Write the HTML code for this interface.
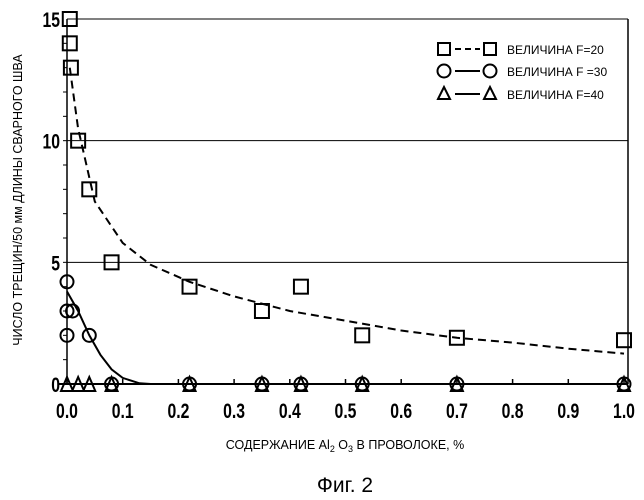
<!DOCTYPE html>
<html><head><meta charset="utf-8"><style>
body{margin:0;background:#fff;}
svg{display:block;font-family:"Liberation Sans","DejaVu Sans",sans-serif;}
</style></head><body>
<svg id="chart" width="644" height="500" viewBox="0 0 644 500">
<g id="grid"></g>
<g id="axes"></g>
<g id="series"></g>
<g font-size="12">
  <rect x="438" y="43" width="12" height="12" fill="none" stroke="#000" stroke-width="2"/>
  <line x1="455" y1="49" x2="480" y2="49" stroke="#000" stroke-width="2" stroke-dasharray="6,4"/>
  <rect x="484" y="43" width="12" height="12" fill="none" stroke="#000" stroke-width="2"/>
  <text x="507" y="54">ВЕЛИЧИНА F=20</text>
  <circle cx="444" cy="71" r="6.5" fill="none" stroke="#000" stroke-width="2"/>
  <line x1="455" y1="71" x2="480" y2="71" stroke="#000" stroke-width="2"/>
  <circle cx="490" cy="71" r="6.5" fill="none" stroke="#000" stroke-width="2"/>
  <text x="507" y="76">ВЕЛИЧИНА F =30</text>
  <path d="M438,99 L444,87 L450,99 Z" fill="none" stroke="#000" stroke-width="2"/>
  <line x1="455" y1="94" x2="480" y2="94" stroke="#000" stroke-width="2"/>
  <path d="M484,99 L490,87 L496,99 Z" fill="none" stroke="#000" stroke-width="2"/>
  <text x="507" y="99">ВЕЛИЧИНА F=40</text>
</g>
<text transform="translate(22,200) rotate(-90)" text-anchor="middle" font-size="12.5">ЧИСЛО ТРЕЩИН/50 мм ДЛИНЫ СВАРНОГО ШВА</text>
<text x="345" y="449" text-anchor="middle" font-size="12.5">СОДЕРЖАНИЕ Al<tspan font-size="9" dy="3">2</tspan><tspan dy="-3"> O</tspan><tspan font-size="9" dy="3">3</tspan><tspan dy="-3">  В ПРОВОЛОКЕ, %</tspan></text>
<text x="345" y="492" text-anchor="middle" font-size="21">Фиг. 2</text>
</svg>
<script>
const xTicks=[0,0.1,0.2,0.3,0.4,0.5,0.6,0.7,0.8,0.9,1.0];
const xTickLabels=["0.0","0.1","0.2","0.3","0.4","0.5","0.6","0.7","0.8","0.9","1.0"];
const yTicks=[0,5,10,15];
const yTickLabels=["0","5","10","15"];
const f20X=[0.005,0.005,0.007,0.02,0.04,0.08,0.22,0.35,0.42,0.53,0.7,1.0];
const f20Y=[15,14,13,10,8,5,4,3,4,2,1.9,1.8];
const f30X=[0,0,0,0.01,0.04,0.08,0.22,0.35,0.42,0.53,0.7,1.0];
const f30Y=[4.2,3,2,3,2,0,0,0,0,0,0,0];
const f40X=[0,0.02,0.04,0.08,0.22,0.35,0.42,0.53,0.7,1.0];
const f40Y=[0,0,0,0,0,0,0,0,0,0];
const fit20X=[0.005,0.02,0.05,0.1,0.15,0.22,0.3,0.4,0.5,0.6,0.7,0.8,0.9,1.0];
const fit20Y=[13,10.5,7.5,5.8,4.9,4.2,3.6,3.0,2.6,2.2,1.9,1.7,1.45,1.25];
const fit30X=[0,0.02,0.04,0.06,0.08,0.1,0.13,0.15];
const fit30Y=[3.8,3,2,1.2,0.6,0.25,0.03,0];

const X0=67,X1=624,Y0=384,Y1=19;
const sx=v=>X0+(X1-X0)*v/1.0;
const sy=v=>Y0-(Y0-Y1)*v/15;
const NS="http://www.w3.org/2000/svg";
function mk(tag,attrs,parent){const e=document.createElementNS(NS,tag);for(const k in attrs)e.setAttribute(k,attrs[k]);parent.appendChild(e);return e;}
const grid=document.getElementById('grid'),axes=document.getElementById('axes'),series=document.getElementById('series');

yTicks.forEach((t,i)=>{
  if(t>0){const l=mk('line',{x1:sx(0),x2:628,y1:sy(t),y2:sy(t),stroke:'#000','stroke-width':1},grid);
  
  }
  const tx=mk('text',{x:0,y:0,'text-anchor':'end','font-size':21,'font-weight':'bold',transform:`translate(${sx(0)-7},${sy(t)+8}) scale(0.75,1)`},axes);
  tx.textContent=yTickLabels[i];
  
  
});
for(let v=1;v<15;v++){const l=mk('line',{x1:sx(0)-4,x2:sx(0),y1:sy(v),y2:sy(v),stroke:'#000','stroke-width':1},axes);
  
  }
const ya=mk('line',{x1:sx(0),x2:sx(0),y1:sy(0),y2:sy(15),stroke:'#000','stroke-width':1.5},axes);


const xa=mk('line',{x1:sx(0)-8,x2:628,y1:sy(0),y2:sy(0),stroke:'#000','stroke-width':2},axes);


const rb=mk('line',{x1:628,x2:628,y1:sy(15),y2:sy(0),stroke:'#000','stroke-width':1.5},axes);


xTicks.forEach((t,i)=>{
  const l=mk('line',{x1:sx(t),x2:sx(t),y1:sy(0),y2:sy(0)-5,stroke:'#000','stroke-width':1.5},axes);
  
  
  const tx=mk('text',{x:0,y:0,'text-anchor':'middle','font-size':21,'font-weight':'bold',transform:`translate(${sx(t)},${sy(0)+34}) scale(0.75,1)`},axes);
  tx.textContent=xTickLabels[i];
  
  
});
function pathOf(xs,ys){return xs.map((x,i)=>(i?'L':'M')+sx(x).toFixed(1)+','+sy(ys[i]).toFixed(1)).join(' ');}
const c20=mk('path',{d:pathOf(fit20X,fit20Y),fill:'none',stroke:'#000','stroke-width':2,'stroke-dasharray':'8,5'},series);


const c30=mk('path',{d:pathOf(fit30X,fit30Y),fill:'none',stroke:'#000','stroke-width':2},series);


f20X.forEach((x,i)=>{const r=mk('rect',{x:sx(x)-7,y:sy(f20Y[i])-7,width:14,height:14,fill:'none',stroke:'#000','stroke-width':2},series);
  
  });
f30X.forEach((x,i)=>{const c=mk('circle',{cx:sx(x),cy:sy(f30Y[i]),r:6.5,fill:'none',stroke:'#000','stroke-width':2},series);
  
  });
f40X.forEach((x,i)=>{const X=sx(x),Y=sy(f40Y[i]);const p=mk('path',{d:`M${X-6},${Y+7} L${X},${Y-7} L${X+6},${Y+7} Z`,fill:'none',stroke:'#000','stroke-width':2},series);
  
  });
</script>
</body></html>
